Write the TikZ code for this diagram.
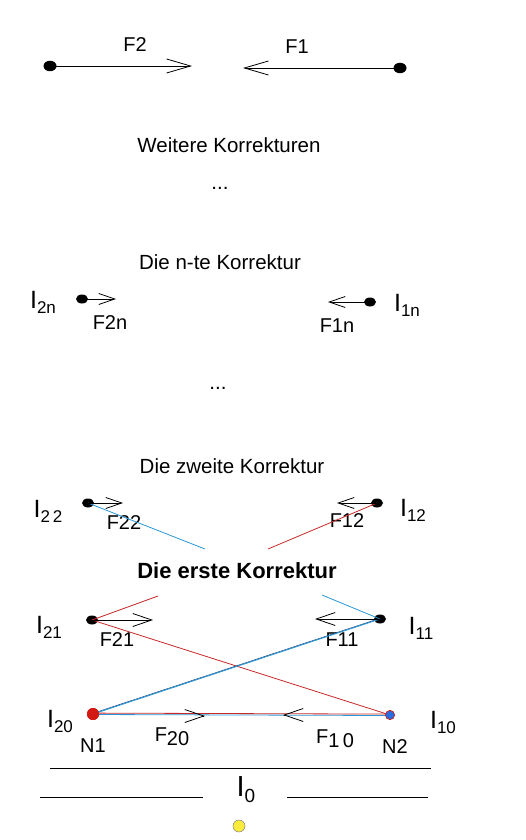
\documentclass[tikz,border=0pt]{standalone}
\usepackage{fontspec}
\setmainfont{Liberation Sans}
\usetikzlibrary{arrows.meta,calc,shapes.geometric}
\definecolor{lred}{RGB}{200,40,40}
\definecolor{lblue}{RGB}{40,150,210}
\definecolor{dblue}{RGB}{30,70,130}
\definecolor{nred}{RGB}{210,25,20}
\definecolor{nblue}{RGB}{40,110,225}
\definecolor{ydot}{RGB}{250,235,60}
\newcommand{\Isub}[1]{{\fontsize{25}{25}\selectfont I}\raisebox{-5pt}{\fontsize{17}{17}\selectfont #1}}
\begin{document}
\begin{tikzpicture}[x=1pt,y=-1pt,
  dotn/.style={ellipse,fill=black,inner sep=0pt,minimum width=13pt,minimum height=10.5pt},
  sdot/.style={ellipse,fill=black,inner sep=0pt,minimum width=12pt,minimum height=9pt},
  txt/.style={inner sep=0pt,font=\fontsize{20.5}{24}\selectfont},
  lbl/.style={inner sep=0pt,font=\fontsize{20}{24}\selectfont},
  ilbl/.style={inner sep=0pt},
  bigarrow/.style={line width=0.8pt,-{Straight Barb[length=24pt,width=14pt,line width=0.8pt]}},
  smallarrow/.style={line width=0.8pt,-{Straight Barb[length=16pt,width=11pt,line width=0.8pt]}},
  midarrow/.style={line width=0.8pt,-{Straight Barb[length=19pt,width=13pt,line width=0.8pt]}},
  redline/.style={lred,line width=0.8pt},
  blueline/.style={lblue,line width=0.8pt},
  hline/.style={black,line width=0.8pt}]
\useasboundingbox (0,0) rectangle (525,840);

% top
\node[dotn] (t2) at (50,66) {};
\coordinate (t2e) at (192,66);
\draw[bigarrow] (t2.center) -- (t2e);
\node[lbl] (lF2) at (135,45) {F2};
\node[dotn] (t1) at (400,68) {};
\coordinate (t1e) at (243,68);
\draw[bigarrow] (t1.center) -- (t1e);
\node[lbl] (lF1) at (297,47) {F1};

\node[txt] (weit) at (229,145) {Weitere Korrekturen};
\node[txt] (dots1) at (220,188) {...};
\node[txt] (nte) at (220,262) {Die n-te Korrektur};

% n-th
\node[ilbl] (I2n) at (43,302) {\Isub{2n}};
\node[sdot] (d2n) at (82,299) {};
\coordinate (d2ne) at (116,299);
\draw[smallarrow] (d2n.center) -- (d2ne);
\node[lbl] (lF2n) at (110,323) {F2n};
\node[sdot] (d1n) at (370,302) {};
\coordinate (d1ne) at (328,302);
\draw[smallarrow] (d1n.center) -- (d1ne);
\node[lbl] (lF1n) at (337,326) {F1n};
\node[ilbl] (I1n) at (407,305) {\Isub{1n}};

\node[txt] (dots2) at (218,388) {...};
\node[txt] (zweite) at (232,466) {Die zweite Korrektur};

% second
\node[ilbl] (I22) at (48,511) {\Isub{2\,2}};
\node[sdot] (d22) at (88,503) {};
\coordinate (d22e) at (123,503);
\node[lbl] (lF22) at (124,523) {F22};
\node[sdot] (d12) at (377,503) {};
\coordinate (d12e) at (337,503);
\node[lbl] (lF12) at (347,521) {F12};
\node[ilbl] (I12) at (413,510) {\Isub{12}};
\coordinate (b2end) at (205,549);
\coordinate (r2end) at (268,549);
\draw[blueline] (d22.center) -- (b2end);
\draw[redline] (d12.center) -- (r2end);
\draw[smallarrow] (d22.center) -- (d22e);
\draw[smallarrow] (d12.center) -- (d12e);

\node[txt,font=\fontsize{22}{24}\selectfont\bfseries] (erste) at (237,571) {Die erste Korrektur};

% first
\coordinate (r1end) at (158,596);
\coordinate (b1end) at (322,595);
\node[ilbl] (I21) at (49,627) {\Isub{21}};
\node[sdot] (d21) at (92,620) {};
\coordinate (d21e) at (153,620);
\node[lbl] (lF21) at (117,640) {F21};
\node[sdot] (d11) at (380,619) {};
\coordinate (d11e) at (315,619);
\node[lbl] (lF11) at (342,640) {F11};
\node[ilbl] (I11) at (421,628) {\Isub{11}};

% zero
\node[circle,fill=nred,inner sep=0pt,minimum size=12pt] (N1) at (93,714) {};
\node[circle,fill=nblue,draw=nred,line width=0.6pt,inner sep=0pt,minimum size=9pt] (N2) at (390,715) {};
\node[ilbl] (I20) at (60,721) {\Isub{20}};
\node[lbl] (lN1) at (93,746) {N1};
\node[lbl] (lN2) at (395,747) {N2};
\node[ilbl] (I10) at (443,722) {\Isub{10}};
\node[lbl] (lF20) at (172,737) {F\raisebox{-4pt}{20}};
\node[lbl] (lF10) at (335,739) {F\raisebox{-4pt}{1\,0}};
\coordinate (f20e) at (205,716);
\coordinate (f10e) at (283,715);

\draw[redline] (d21.center) -- (r1end);
\draw[blueline] (d11.center) -- (b1end);
\draw[redline] (d21.center) -- (N2.center);
\draw[dblue,line width=0.6pt,transform canvas={yshift=0.7pt}] (N1.center) -- (d11.center);
\draw[blueline,line width=0.9pt] (N1.center) -- (d11.center);
\draw[blueline,transform canvas={yshift=-0.5pt}] (N1.center) -- (N2.center);
\draw[redline,transform canvas={yshift=0.9pt}] (N1.center) -- (N2.center);
\draw[midarrow] (d21.center) -- (d21e);
\draw[midarrow] (d11.center) -- (d11e);
\node[circle,fill=nred,inner sep=0pt,minimum size=12pt] at (N1) {};
\node[circle,fill=nblue,draw=nred,line width=0.6pt,inner sep=0pt,minimum size=9pt] at (N2) {};
\draw[midarrow] ($(f20e)+(-1,0)$) -- (f20e);
\draw[midarrow] ($(f10e)+(1,0)$) -- (f10e);

% ground
\coordinate (g1a) at (50,768); \coordinate (g1b) at (431,768);
\draw[hline] (g1a) -- (g1b);
\coordinate (g2a) at (40,797); \coordinate (g2b) at (203,797);
\coordinate (g3a) at (287,797); \coordinate (g3b) at (428,797);
\draw[hline] (g2a) -- (g2b);
\draw[hline] (g3a) -- (g3b);
\node[ilbl] (I0) at (246,790) {{\fontsize{29}{29}\selectfont I}\raisebox{-6pt}{\fontsize{19}{19}\selectfont 0}};
\node[circle,fill=ydot,draw=gray,line width=0.5pt,inner sep=0pt,minimum size=12pt] (Y) at (239,826) {};
\end{tikzpicture}
\end{document}
